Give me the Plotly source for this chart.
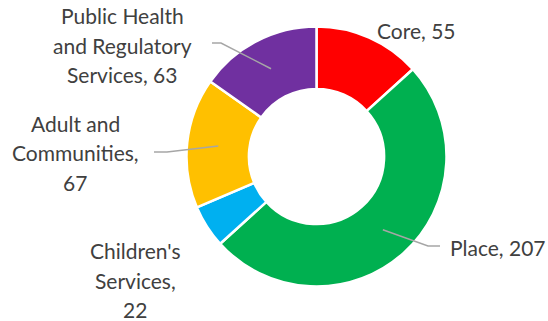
import math
import plotly.graph_objects as go

# Budget split by directorate
directorates = ["Core", "Place", "Children's Services", "Adult and Communities",
                "Public Health and Regulatory Services"]
values = [55, 207, 22, 67, 63]
label_texts = ["Core, 55", "Place, 207", "Children's<br>Services,<br>22",
               "Adult and<br>Communities,<br>67", "Public Health<br>and Regulatory<br>Services, 63"]
colors = ["#FF0000", "#00B050", "#00B0F0", "#FFC000", "#7030A0"]

W, H = 548, 321
CX, CY, R = 316.5, 156.5, 130.0   # donut centre and outer radius (px)
HOLE = 0.52
LINE_STEP = 29.5                   # label line spacing (px)

# label placement (px): text centre, and optional leader start + elbow
label_pos = [(416, 30), (498, 247), (135, 280), (75, 153), (122, 45)]
leaders = {
    1: [(440, 246), (428, 246)],
    3: [(154, 152), (167, 152)],
    4: [(212, 43), (221, 43)],
}

def px(x):
    return x / W

def py(y):
    return 1 - y / H

fig = go.Figure(go.Pie(
    labels=directorates,
    values=values,
    hole=HOLE,
    sort=False,
    direction="clockwise",
    rotation=0,
    marker=dict(colors=colors, line=dict(color="white", width=2.5)),
    textinfo="none",
    hoverinfo="label+value",
    showlegend=False,
    domain=dict(x=[px(CX - R), px(CX + R)], y=[py(CY + R), py(CY - R)]),
))

total = sum(values)
cum = 0
mid_r = R * (1 + HOLE) / 2
shapes = []
annotations = []
for i, v in enumerate(values):
    mid = (cum + v / 2) / total * 2 * math.pi
    cum += v
    lx, ly = label_pos[i]
    lines = label_texts[i].split("<br>")
    top = ly - LINE_STEP * (len(lines) - 1) / 2
    for k, line in enumerate(lines):
        annotations.append(dict(
            x=px(lx), y=py(top + k * LINE_STEP), xref="paper", yref="paper",
            text=line, showarrow=False,
            xanchor="center", yanchor="middle", align="center",
            font=dict(family="Lato", size=21, color="#404040"),
        ))
    if i in leaders:
        ex = CX + mid_r * math.sin(mid)
        ey = CY - mid_r * math.cos(mid)
        (sx, sy), (bx, by) = leaders[i]
        path = (f"M {px(sx)},{py(sy)} L {px(bx)},{py(by)} "
                f"L {px(ex)},{py(ey)}")
        shapes.append(dict(type="path", path=path, xref="paper", yref="paper",
                           line=dict(color="#A6A6A6", width=1.5)))

fig.update_layout(
    width=W, height=H,
    margin=dict(l=0, r=0, t=0, b=0),
    paper_bgcolor="white",
    plot_bgcolor="white",
    shapes=shapes,
    annotations=annotations,
)

fig.write_html("out.html")
